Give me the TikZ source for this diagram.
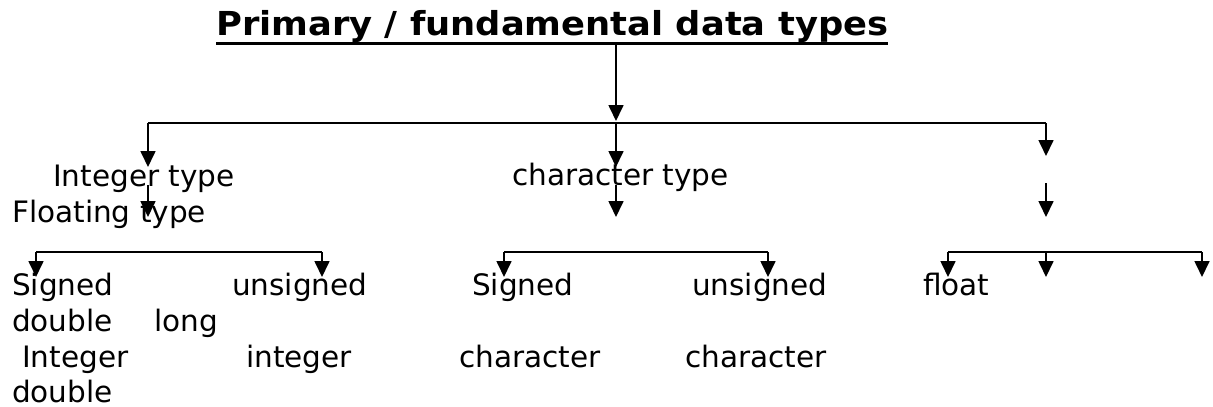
\documentclass[tikz,border=0pt]{standalone}
\usepackage{fontspec}
\usepackage{graphicx}
\setmainfont{DejaVu Sans}
\usetikzlibrary{arrows.meta}

\begin{document}
\begin{tikzpicture}[
    x=1pt, y=-1pt,
    heading/.style={inner sep=0, anchor=base west, font=\fontsize{33}{38}\selectfont\bfseries},
    entry/.style={inner sep=0, anchor=base west, font=\fontsize{29.5}{36}\selectfont},
    bus/.style={line width=1.7pt},
    arrow/.style={-{Triangle[length=16pt,width=15pt]}, line width=1.7pt}
]
\useasboundingbox (0,0) rectangle (1213,407);

% Title
\node[heading] (title) at (216,35) {\resizebox{672pt}{\height}{Primary / fundamental data types}};
\draw[line width=3pt] ([yshift=-1pt]title.south west) -- ([yshift=-1pt]title.south east);

% First level
\coordinate (root) at (616,43);
\coordinate (top) at (616,121);
\coordinate (busL) at (148,123);
\coordinate (busM) at (616,123);
\coordinate (busR) at (1046,123);
\coordinate (tipL) at (148,167);
\coordinate (tipM) at (616,167);
\coordinate (tipR) at (1046,156);

\draw[arrow] (root) -- (top);
\draw[bus] (busL) -- (busR);
\draw[arrow] (busL) -- (tipL);
\draw[arrow] (busM) -- (tipM);
\draw[arrow] (busR) -- (tipR);

\node[entry] (intT) at (53,186) {Integer type};
\node[entry] (charT) at (512,185) {character type};
\node[entry] (floatT) at (12,222) {Floating type};

% Second level
\coordinate (fromL) at (148,185);
\coordinate (fromM) at (616,185);
\coordinate (fromR) at (1046,183);
\coordinate (toL) at (148,217);
\coordinate (toM) at (616,217);
\coordinate (toR) at (1046,217);

\draw[arrow] (fromL) -- (toL);
\draw[arrow] (fromM) -- (toM);
\draw[arrow] (fromR) -- (toR);

% Integer branches
\coordinate (iS) at (36,252);
\coordinate (iU) at (322,252);
\coordinate (iStip) at (36,277);
\coordinate (iUtip) at (322,277);
\draw[bus] (iS) -- (iU);
\draw[arrow] (iS) -- (iStip);
\draw[arrow] (iU) -- (iUtip);

% Character branches
\coordinate (cS) at (504,252);
\coordinate (cU) at (768,252);
\coordinate (cStip) at (504,277);
\coordinate (cUtip) at (768,277);
\draw[bus] (cS) -- (cU);
\draw[arrow] (cS) -- (cStip);
\draw[arrow] (cU) -- (cUtip);

% Floating branches
\coordinate (fF) at (948,252);
\coordinate (fD) at (1046,252);
\coordinate (fL) at (1202,252);
\coordinate (fFtip) at (948,277);
\coordinate (fDtip) at (1046,277);
\coordinate (fLtip) at (1202,277);
\draw[bus] (fF) -- (fL);
\draw[arrow] (fF) -- (fFtip);
\draw[arrow] (fD) -- (fDtip);
\draw[arrow] (fL) -- (fLtip);

% Leaf texts
\node[entry] (sgnI) at (12,295) {Signed};
\node[entry] (unsI) at (232,295) {unsigned};
\node[entry] (sgnC) at (472,295) {Signed};
\node[entry] (unsC) at (692,295) {unsigned};
\node[entry] (flt) at (923,295) {float};

\node[entry] (dbl) at (12,331) {double};
\node[entry] (lng) at (154,331) {long};

\node[entry] (intI) at (22,367) {Integer};
\node[entry] (intU) at (246,367) {integer};
\node[entry] (chrS) at (459,367) {character};
\node[entry] (chrU) at (685,367) {character};

\node[entry] (dbl2) at (12,402) {double};

\end{tikzpicture}
\end{document}
